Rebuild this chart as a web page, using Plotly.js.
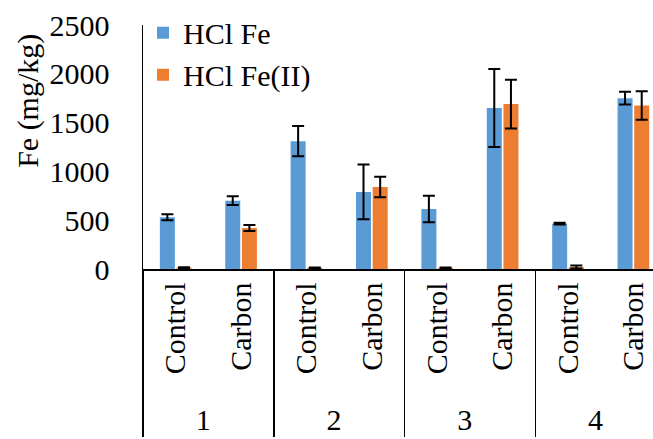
<!DOCTYPE html>
<html>
<head>
<meta charset="utf-8">
<script src="https://cdn.plot.ly/plotly-3.0.1.min.js"></script>
<style>html,body{margin:0;padding:0;background:#fff;}#chart{width:653px;height:439px;}</style>
</head>
<body>
<div id="chart"></div>
<script>
var groups = ["1", "1", "2", "2", "3", "3", "4", "4"];
var treatments = ["Control", "Carbon", "Control", "Carbon", "Control", "Carbon", "Control", "Carbon"];
var hclFe = [530, 700, 1310, 790, 615, 1650, 465, 1750];
var hclFeErr = [30, 45, 155, 280, 135, 400, 10, 65];
var hclFeII = [15, 420, 12, 840, 12, 1690, 20, 1675];
var hclFeIIErr = [4, 30, 4, 105, 4, 250, 15, 145];
var seriesNames = ["HCl Fe", "HCl Fe(II)"];
var yTicks = [0, 500, 1000, 1500, 2000, 2500];
var yTitle = "Fe (mg/kg)";

var font = "Liberation Serif";
var tf = {family: font, size: 30, color: "#000"};
var errStyle = {type: "data", visible: true, color: "#000", thickness: 2, width: 6};

function makeTraces() {
  return [
    {type: "bar", name: seriesNames[0], x: [groups, treatments], y: hclFe,
     marker: {color: "#5B9BD5"},
     error_y: Object.assign({array: hclFeErr}, errStyle)},
    {type: "bar", name: seriesNames[1], x: [groups, treatments], y: hclFeII,
     marker: {color: "#ED7D31"},
     error_y: Object.assign({array: hclFeIIErr}, errStyle)}
  ];
}

function makeLayout() {
  return {
    width: 653, height: 439,
    margin: {l: 143, r: 0, t: 25, b: 170},
    paper_bgcolor: "#fff", plot_bgcolor: "#fff",
    font: tf,
    barmode: "group", bargap: 0.49, bargroupgap: 0.1,
    showlegend: true,
    legend: {x: 0.0, y: 1.075, xanchor: "left", yanchor: "top",
             bgcolor: "rgba(0,0,0,0)", font: tf, tracegroupgap: 0},
    xaxis: {type: "multicategory", range: [-0.5, 7.3],
            showline: true, linecolor: "#000", linewidth: 1.5,
            showdividers: true, dividercolor: "#000", dividerwidth: 1.5,
            tickangle: -90, showgrid: false, zeroline: false,
            tickfont: tf},
    yaxis: {range: [0, 2500], tickvals: yTicks, ticktext: yTicks.map(String),
            showline: true, linecolor: "#000", linewidth: 1.5,
            showgrid: false, zeroline: false,
            ticks: "outside", ticklen: 26, tickcolor: "rgba(0,0,0,0)",
            tickfont: tf},
    annotations: [{xref: "paper", yref: "paper", x: -0.227, y: 0.69,
                   xanchor: "center", yanchor: "middle", textangle: -90,
                   text: yTitle, showarrow: false, font: tf}]
  };
}

var config = {displayModeBar: false, staticPlot: true};
function draw() {
  var el = document.getElementById("chart");
  Plotly.purge(el);
  return Plotly.newPlot(el, makeTraces(), makeLayout(), config);
}

draw().then(function () {
  setTimeout(draw, 60);
  setTimeout(draw, 300);
});
</script>
</body>
</html>
